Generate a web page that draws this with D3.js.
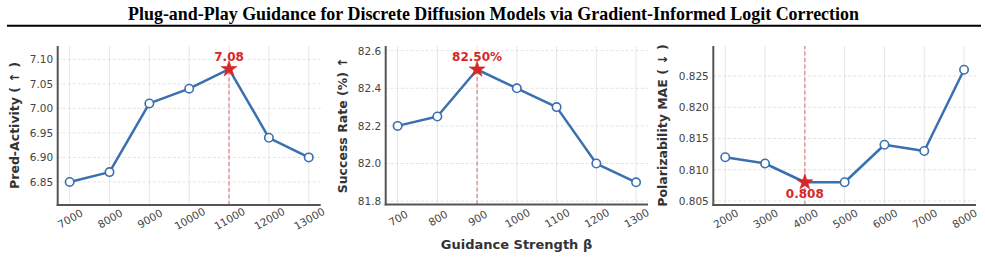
<!DOCTYPE html>
<html><head><meta charset="utf-8">
<script src="https://cdn.jsdelivr.net/npm/d3@7"></script>
<style>
html,body{margin:0;padding:0;background:#fff;}
svg{display:block;}
</style></head>
<body>
<svg id="c" width="985" height="259"></svg>
<script>
const titleText = "Plug-and-Play Guidance for Discrete Diffusion Models via Gradient-Informed Logit Correction";

const x1 = [7000, 8000, 9000, 10000, 11000, 12000, 13000];
const y1 = [6.85, 6.87, 7.01, 7.04, 7.08, 6.94, 6.90];
const yTicks1 = [6.85, 6.90, 6.95, 7.00, 7.05, 7.10];

const x2 = [700, 800, 900, 1000, 1100, 1200, 1300];
const y2 = [82.2, 82.25, 82.5, 82.4, 82.3, 82.0, 81.9];
const yTicks2 = [81.8, 82.0, 82.2, 82.4, 82.6];

const x3 = [2000, 3000, 4000, 5000, 6000, 7000, 8000];
const y3 = [0.812, 0.811, 0.808, 0.808, 0.814, 0.813, 0.826];
const yTicks3 = [0.805, 0.810, 0.815, 0.820, 0.825];

const yLabels = ["Pred-Activity ( \u2191 )", "Success Rate (%)  \u2191", "Polarizability MAE ( \u2193 )"];
const xLabel = "Guidance Strength \u03b2";
const bestLabels = ["7.08", "82.50%", "0.808"];

const svg = d3.select("#c");

svg.append("text")
  .attr("x", 128).attr("y", 19.5)
  .attr("text-anchor", "start")
  .attr("font-family", "'Liberation Serif','Times New Roman',serif")
  .attr("font-weight", "bold")
  .attr("font-size", 19)
  .attr("textLength", 731).attr("lengthAdjust", "spacingAndGlyphs")
  .attr("fill", "#000")
  .text(titleText);
svg.append("line").attr("x1", 7).attr("x2", 981).attr("y1", 25.7).attr("y2", 25.7)
  .attr("stroke", "#000").attr("stroke-width", 2);

const panels = [
  {xs: x1, ys: y1, yt: yTicks1, xd: [6700, 13300], yd: [6.803, 7.127], xr: [57.7, 320.7], yr: [205, 46],
   fmt: d3.format(".2f"), best: 4, labelAbove: true, lineFull: false, ylx: 14},
  {xs: x2, ys: y2, yt: yTicks2, xd: [670, 1330], yd: [81.782, 82.625], xr: [385.7, 648], yr: [204.5, 46],
   fmt: d3.format(".1f"), best: 2, labelAbove: true, lineFull: false, ylx: 342.5},
  {xs: x3, ys: y3, yt: yTicks3, xd: [1700, 8300], yd: [0.80436, 0.8298], xr: [713.3, 976], yr: [205, 46],
   fmt: d3.format(".3f"), best: 2, labelAbove: false, lineFull: true, ylx: 662.5}
];

const blue = "#3a6fb0";
const red = "#d62728";
const font = "'DejaVu Sans', sans-serif";

panels.forEach((p, i) => {
  const x = d3.scaleLinear().domain(p.xd).range(p.xr);
  const y = d3.scaleLinear().domain(p.yd).range(p.yr);
  const g = svg.append("g");

  g.selectAll(".vg").data(p.xs).enter().append("line")
    .attr("x1", d => x(d)).attr("x2", d => x(d))
    .attr("y1", p.yr[0]).attr("y2", p.yr[1])
    .attr("stroke", "#e6e6e6").attr("stroke-width", 1);
  g.selectAll(".hg").data(p.yt).enter().append("line")
    .attr("x1", p.xr[0]).attr("x2", p.xr[1])
    .attr("y1", d => y(d)).attr("y2", d => y(d))
    .attr("stroke", "#dcdcdc").attr("stroke-width", 0.8).attr("stroke-dasharray", "3,2");

  const bx = x(p.xs[p.best]), by = y(p.ys[p.best]);
  g.append("line").attr("x1", bx).attr("x2", bx)
    .attr("y1", p.yr[0]).attr("y2", p.lineFull ? p.yr[1] : by)
    .attr("stroke", red).attr("stroke-opacity", 0.55).attr("stroke-width", 1.2)
    .attr("stroke-dasharray", "4,2.5");

  const xAxis = d3.axisBottom(x).tickValues(p.xs).tickSize(0).tickPadding(0).tickFormat(d3.format("d"));
  const yAxis = d3.axisLeft(y).tickValues(p.yt).tickSize(0).tickPadding(4.5).tickFormat(p.fmt);

  const gx = g.append("g").attr("transform", `translate(0,${p.yr[0]})`).call(xAxis);
  gx.select(".domain").remove();
  gx.selectAll("text")
    .attr("font-family", font).attr("font-size", 10.5).attr("fill", "#444")
    .attr("text-anchor", "middle").attr("dy", null).attr("y", 0)
    .attr("transform", "translate(0,13.5) rotate(-30)")
    .attr("dominant-baseline", "central");

  const gy = g.append("g").attr("transform", `translate(${p.xr[0]},0)`).call(yAxis);
  gy.select(".domain").remove();
  gy.selectAll("text").attr("font-family", font).attr("font-size", 10.5).attr("fill", "#444");

  g.append("line").attr("x1", p.xr[0]).attr("x2", p.xr[0]).attr("y1", p.yr[1]).attr("y2", p.yr[0] + 1)
    .attr("stroke", "#555").attr("stroke-width", 2);
  g.append("line").attr("x1", p.xr[0] - 1).attr("x2", p.xr[1]).attr("y1", p.yr[0]).attr("y2", p.yr[0])
    .attr("stroke", "#555").attr("stroke-width", 2);

  const pts = p.xs.map((d, k) => [d, p.ys[k]]);
  g.append("path").datum(pts)
    .attr("d", d3.line().x(d => x(d[0])).y(d => y(d[1])))
    .attr("fill", "none").attr("stroke", blue).attr("stroke-width", 2.5)
    .attr("stroke-linejoin", "round");

  g.selectAll(".pt").data(pts.filter((d, k) => k !== p.best)).enter().append("circle")
    .attr("cx", d => x(d[0])).attr("cy", d => y(d[1])).attr("r", 4.2)
    .attr("fill", "#fff").attr("stroke", blue).attr("stroke-width", 1.6);

  g.append("path")
    .attr("d", d3.symbol().type(d3.symbolStar).size(80)())
    .attr("transform", `translate(${bx},${by})`)
    .attr("fill", red).attr("stroke", red).attr("stroke-width", 0.6);

  g.append("text")
    .attr("x", bx).attr("y", p.labelAbove ? by - 8.5 : by + 15.5)
    .attr("text-anchor", "middle")
    .attr("font-family", font).attr("font-weight", "bold").attr("font-size", 12)
    .attr("fill", red)
    .text(bestLabels[i]);

  const cy = (p.yr[0] + p.yr[1]) / 2;
  svg.append("text")
    .attr("transform", `translate(${p.ylx},${cy}) rotate(-90)`)
    .attr("text-anchor", "middle").attr("dominant-baseline", "central")
    .attr("font-family", font).attr("font-weight", "bold").attr("font-size", 12.5)
    .attr("fill", "#333")
    .text(yLabels[i]);
});

svg.append("text")
  .attr("x", 516.5).attr("y", 249)
  .attr("text-anchor", "middle")
  .attr("font-family", font).attr("font-weight", "bold").attr("font-size", 13)
  .attr("fill", "#333")
  .text(xLabel);
</script>
</body></html>
